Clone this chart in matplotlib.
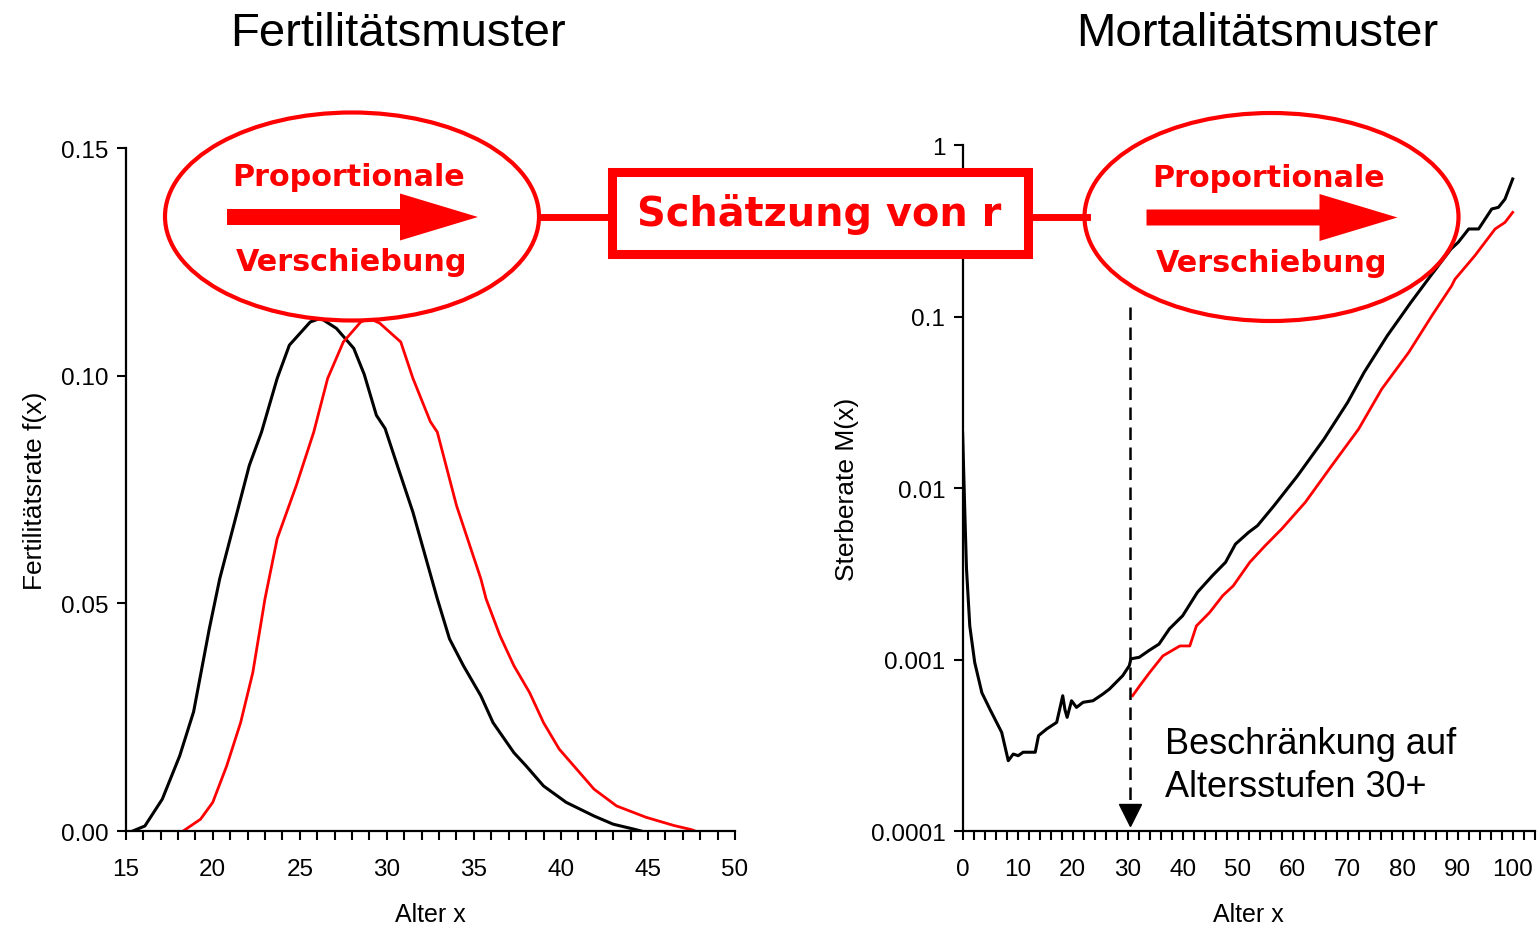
import matplotlib
matplotlib.use("Agg")
import matplotlib.pyplot as plt
from matplotlib.patches import Ellipse, Rectangle, FancyArrow
from matplotlib.ticker import MultipleLocator, FixedLocator, FixedFormatter

plt.rcParams['font.family'] = ['Liberation Sans', 'DejaVu Sans']

# Fertility pattern (age, f(x))
fert_age_black = [15.4, 16.1, 17.1, 18.1, 18.9, 19.8, 20.4, 21.2, 22.1, 22.8, 23.7, 24.4, 25.6,
                  26.2, 27.1, 28.1, 28.7, 29.4, 29.9, 30.6, 31.5, 32.9, 33.6, 34.4, 35.4, 36.1,
                  37.3, 38.0, 39.0, 40.3, 41.9, 43.0, 44.2, 44.6]
fert_black = [0.0, 0.0011, 0.0070, 0.0165, 0.0262, 0.0444, 0.0554, 0.0671, 0.0803, 0.0876, 0.0994,
              0.1067, 0.1118, 0.1126, 0.1104, 0.1060, 0.1003, 0.0913, 0.0884, 0.0803, 0.0700,
              0.0510, 0.0422, 0.0363, 0.0297, 0.0238, 0.0172, 0.0143, 0.0099, 0.0063, 0.0033,
              0.0015, 0.0004, 0.0]

fert_age_red = [18.3, 19.3, 20.0, 20.8, 21.6, 22.3, 23.0, 23.7, 24.8, 25.8, 26.6, 27.5, 28.5,
                29.0, 29.6, 30.8, 31.5, 32.5, 32.9, 34.0, 35.4, 35.7, 36.5, 37.3, 38.2, 39.0,
                39.9, 40.9, 41.9, 43.2, 44.9, 46.5, 47.5, 47.7]
fert_red = [0.0, 0.0026, 0.0063, 0.0143, 0.0238, 0.0348, 0.0510, 0.0642, 0.0759, 0.0876, 0.0994,
            0.1074, 0.1118, 0.1126, 0.1115, 0.1074, 0.0994, 0.0899, 0.0876, 0.0715, 0.0554,
            0.0510, 0.0429, 0.0363, 0.0304, 0.0238, 0.0180, 0.0136, 0.0092, 0.0055, 0.0030,
            0.0012, 0.0003, 0.0]

# Mortality pattern (age, M(x))
mort_age_black = [0.0, 0.4, 0.7, 1.3, 2.2, 3.5, 5.0, 7.1, 8.3, 9.2, 10.1, 11.0, 13.2, 13.8, 15.3,
                  17.1, 18.2, 18.6, 19.0, 19.8, 20.7, 21.9, 23.7, 25.5, 26.7, 27.9, 29.1, 30.3,
                  30.6, 32.1, 33.9, 35.7, 37.6, 40.0, 42.7, 45.4, 47.8, 49.6, 52.0, 53.6, 56.6,
                  60.9, 65.7, 70.0, 73.0, 77.2, 81.5, 85.1, 88.8, 90.1, 92.0, 93.8, 96.2, 97.4,
                  98.6, 100.0]
mort_black = [0.021, 0.0072, 0.0034, 0.00157, 0.00096, 0.00064, 0.00051, 0.000376, 0.000257,
              0.000281, 0.000275, 0.000288, 0.000288, 0.00036, 0.000394, 0.00043, 0.000615,
              0.00051, 0.00046, 0.000575, 0.000526, 0.000563, 0.000575, 0.000629, 0.000673,
              0.000736, 0.000805, 0.00092, 0.00101, 0.00103, 0.00113, 0.00123, 0.00151, 0.0018,
              0.00247, 0.00308, 0.00369, 0.00471, 0.00552, 0.00603, 0.00788, 0.0118, 0.0193,
              0.0316, 0.0473, 0.0773, 0.121, 0.173, 0.248, 0.271, 0.324, 0.324, 0.424, 0.433,
              0.484, 0.634]

mort_age_red = [30.9, 32.2, 34.0, 36.4, 39.5, 41.3, 42.5, 44.9, 47.3, 49.2, 52.2, 55.0, 58.0,
                62.3, 67.1, 72.0, 76.2, 81.1, 85.3, 88.9, 89.5, 93.1, 96.8, 98.6, 100.0]
mort_red = [0.000615, 0.000703, 0.00084, 0.00105, 0.0012, 0.0012, 0.00157, 0.00188, 0.00236,
            0.00269, 0.00369, 0.00461, 0.00577, 0.00826, 0.0135, 0.0221, 0.0378, 0.0618, 0.101,
            0.151, 0.165, 0.226, 0.324, 0.354, 0.405]

mort_yticks = [0.0001, 0.001, 0.01, 0.1, 1]
mort_ylabels = ['0.0001', '0.001', '0.01', '0.1', '1']
cutoff_age = 30.5

fig = plt.figure(figsize=(15.37, 9.29), dpi=100)

# ---- left: fertility
ax1 = fig.add_axes([0.0818, 0.1044, 0.3964, 0.7352])
ax1.plot(fert_age_black, fert_black, color='black', lw=2.2)
ax1.plot(fert_age_red, fert_red, color='red', lw=2.0)
ax1.set_xlim(15, 50)
ax1.set_ylim(0, 0.15)
ax1.set_xticks([15, 20, 25, 30, 35, 40, 45, 50])
ax1.xaxis.set_minor_locator(MultipleLocator(1))
ax1.set_yticks([0, 0.05, 0.10, 0.15])
ax1.set_yticklabels(['0.00', '0.05', '0.10', '0.15'])
ax1.set_xlabel('Alter x', fontsize=18, labelpad=16)
ax1.set_ylabel('Fertilitätsrate f(x)', fontsize=19, labelpad=10)

# ---- right: mortality
ax2 = fig.add_axes([0.6263, 0.1044, 0.3722, 0.7384])
ax2.set_yscale('log')
ax2.plot(mort_age_black, mort_black, color='black', lw=2.2)
ax2.plot(mort_age_red, mort_red, color='red', lw=2.0)
ax2.set_xlim(0, 104)
ax2.set_ylim(0.0001, 1)
ax2.xaxis.set_major_locator(FixedLocator([0, 10, 20, 30, 40, 50, 60, 70, 80, 90, 100]))
ax2.xaxis.set_minor_locator(MultipleLocator(2))
ax2.yaxis.set_major_locator(FixedLocator(mort_yticks))
ax2.yaxis.set_major_formatter(FixedFormatter(mort_ylabels))
ax2.yaxis.set_minor_locator(FixedLocator([]))
ax2.set_xlabel('Alter x', fontsize=18, labelpad=16)
ax2.set_ylabel('Sterberate M(x)', fontsize=19, labelpad=8)

# dashed cut-off marker with arrow head
ax2.plot([cutoff_age, cutoff_age], [0.1135, 0.000146], color='black', lw=1.8, ls=(0, (5, 3)))
ax2.plot([cutoff_age], [0.000124], marker='v', color='black', markersize=16, clip_on=False)

for ax in (ax1, ax2):
    for s in ('top', 'right'):
        ax.spines[s].set_visible(False)
    for s in ('left', 'bottom'):
        ax.spines[s].set_linewidth(1.6)
    ax.tick_params(which='both', direction='out', length=6.5, width=1.5, labelsize=17.5)
    ax.tick_params(axis='x', which='both', pad=13)
    ax.tick_params(axis='y', pad=6)

# ---- overlay with ellipses, box and texts (pixel coordinates)
ov = fig.add_axes([0, 0, 1, 1], zorder=5)
ov.set_xlim(0, 1537)
ov.set_ylim(929, 0)
ov.axis('off')
ov.patch.set_alpha(0)

red = '#ff0000'
ov.plot([540, 612], [217.5, 217.5], color=red, lw=5)
ov.plot([1027, 1087], [217.5, 217.5], color=red, lw=5)

for cx, cy in [(352, 217.5), (1271.5, 218)]:
    ov.add_patch(Ellipse((cx, cy), 374, 208, facecolor='white', edgecolor=red, lw=3))
    ov.add_patch(FancyArrow(cx - 125, cy + 0.5, 251, 0, width=16, head_width=47, head_length=78,
                            length_includes_head=True, color=red, lw=0))
    ov.text(cx - 3, cy - 40, 'Proportionale', color=red, fontsize=21.8, fontweight='bold',
            family='DejaVu Sans', ha='center', va='center')
    ov.text(cx, cy + 45, 'Verschiebung', color=red, fontsize=21.8, fontweight='bold',
            family='DejaVu Sans', ha='center', va='center')

ov.add_patch(Rectangle((612, 173), 415.5, 81.5, facecolor='white', edgecolor=red, lw=6.5))
ov.text(819, 214, 'Schätzung von r', color=red, fontsize=28.7, fontweight='bold',
        family='DejaVu Sans', ha='center', va='center')

ov.text(398, 34, 'Fertilitätsmuster', fontsize=34, ha='center', va='center')
ov.text(1257, 34, 'Mortalitätsmuster', fontsize=34, ha='center', va='center')

ov.text(1165, 766, 'Beschränkung auf\nAltersstufen 30+', fontsize=26, ha='left', va='center',
        linespacing=1.32)

fig.savefig('out.png', dpi=100)
